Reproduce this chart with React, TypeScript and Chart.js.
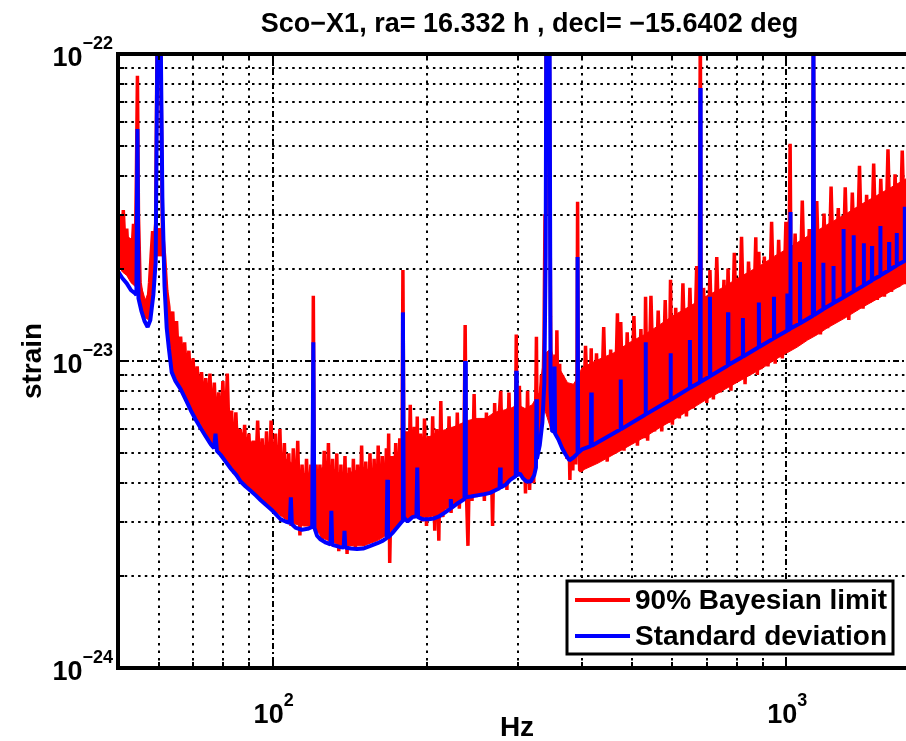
import { useEffect, useRef } from 'react';
import { Chart, registerables } from 'chart.js';

Chart.register(...registerables);

// Strain values below are written in units of 1e-24.
const STRAIN_UNIT = 1e-24;

const TITLE = 'Sco\u2212X1, ra= 16.332 h , decl= \u221215.6402 deg';
const X_LABEL = 'Hz';
const Y_LABEL = 'strain';

const X_RANGE = [50, 2000];
const Y_RANGE = [1e-24, 1e-22];
const X_TICK_EXPONENTS = [2, 3];
const Y_TICK_EXPONENTS = [-24, -23, -22];
const X_GRID_DECADES = [1, 2, 3];
const Y_GRID_DECADES = [-24, -23];
const MINOR_MULTIPLIERS = [2, 3, 4, 5, 6, 7, 8, 9];

// Standard deviation: [Hz, strain/1e-24]
const stdDevLow: [number, number][] = [
  [50, 19.6], [51, 18.6], [52, 17.9], [53, 17.0], [54, 16.6], [54.3, 16.4], [54.55, 57], [54.8, 16.0],
  [55.5, 14.6], [56.3, 13.5], [57.1, 12.9], [57.8, 13.6], [58.6, 16.5], [59.2, 21], [59.7, 130], [60.5, 130],
  [61.0, 34], [61.6, 17.5], [62.2, 12.8], [62.8, 11.0], [63.6, 9.2], [64.7, 8.6], [66.2, 8.1], [67.7, 7.5],
  [69.3, 6.9], [70.8, 6.45], [72.4, 6.05], [74.0, 5.7], [75.8, 5.35], [76.9, 5.2], [77.4, 5.8], [77.9, 5.1],
  [79.2, 4.95], [81.0, 4.7], [83.0, 4.45], [85.0, 4.25], [86.6, 4.05], [88.6, 3.9], [90.6, 3.78], [92.7, 3.65],
  [94.8, 3.52], [97.0, 3.4], [100, 3.25], [103.7, 3.05], [106, 3.0], [108, 2.97], [108.5, 3.6], [109, 2.94],
  [111, 2.86], [114, 2.82], [117, 2.84], [119.4, 2.88], [120, 11.5], [120.6, 2.86],
];

const stdDevMid: [number, number][] = [
  [122, 2.7], [124, 2.62], [127, 2.56], [129.6, 2.53], [130.1, 3.25], [130.6, 2.52], [135, 2.48], [137.5, 2.47],
  [138, 2.8], [138.5, 2.47], [142, 2.45], [146, 2.44], [150, 2.45], [155, 2.5], [160, 2.55], [164, 2.6],
  [166.7, 2.65], [167.2, 4.1], [167.7, 2.66], [171, 2.75], [175, 2.88], [178.6, 3.0], [179.3, 14.4], [180, 3.1],
  [183, 3.0], [187, 3.1], [190.5, 3.12], [191.2, 4.5], [191.9, 3.1], [196, 3.05], [201, 3.05], [206, 3.07],
  [211, 3.12], [216, 3.2], [221.5, 3.3], [222.2, 3.55], [222.9, 3.32], [228, 3.42], [233, 3.5], [236.3, 3.55],
  [237, 10.0], [237.7, 3.6], [243, 3.62], [250, 3.65], [258, 3.68], [265, 3.72], [272, 3.8], [276.5, 3.85],
  [277.2, 4.5], [277.9, 3.87], [284, 3.95], [290, 4.1], [297.3, 4.22], [298, 9.3], [298.7, 4.24], [303, 4.3],
  [307, 4.15], [312, 4.05], [318, 4.05], [323, 4.25], [325.5, 4.5], [326.2, 7.5], [326.9, 4.8], [331, 5.3],
  [335, 6.3], [338, 8.5], [340, 22], [341, 130], [346, 130], [347.5, 8.0], [350, 5.9], [353, 5.9],
  [353.8, 9.6], [354.6, 5.8], [360, 5.55], [366, 5.2], [372, 4.95], [378, 4.75], [385, 4.85], [391.3, 4.98],
  [392.3, 21.8], [393.3, 5.02],
];

const stdDevHigh: [number, number][] = [
  [400, 5.15], [416, 5.28], [417, 7.9], [418, 5.3], [475, 5.98], [476, 8.7], [477, 6.0], [531, 6.68],
  [532, 11.5], [533, 6.7], [594, 7.46], [595, 10.6], [596, 7.48], [648, 8.16], [649, 11.7], [650, 8.18],
  [679, 8.53], [680, 77.5], [681, 8.56], [709, 8.9], [710, 16.2], [711, 8.94], [769, 9.66], [770, 14.4],
  [771, 9.7], [822, 10.32], [823, 13.8], [824, 10.35], [883, 11.08], [884, 15.5], [885, 11.1], [945, 11.85],
  [946, 16.2], [947, 11.88], [1003, 12.55], [1004, 16.6], [1005, 12.57], [1016.5, 12.72], [1018, 30.6], [1019.5, 12.76],
  [1062, 13.25], [1063, 21.0], [1064, 13.28], [1126, 14.05], [1129, 130], [1132, 14.12], [1179, 14.74], [1180, 20.9],
  [1181, 14.76], [1234, 15.41], [1235, 20.4], [1236, 15.44], [1291, 16.11], [1292, 26.9], [1293, 16.14], [1351, 16.85],
  [1352, 25.7], [1353, 16.88], [1414, 17.6], [1415, 24.2], [1416, 17.64], [1467, 18.3], [1468, 23.7], [1469, 18.36],
  [1523, 18.97], [1524, 27.5], [1525, 19.02], [1584, 19.75], [1585, 24.4], [1586, 19.8], [1639, 20.47], [1640, 26.1],
  [1641, 20.52], [1699, 21.17], [1700, 31.8], [1701, 21.22], [2000, 24.9],
];

// 90% Bayesian upper limit, individual spectrum points: [Hz, strain/1e-24]
const limitLow: [number, number][] = [
  [50.0, 24], [50.4, 30], [50.8, 22], [51.2, 31], [51.6, 23], [52.0, 27], [52.4, 21], [52.8, 25],
  [53.2, 22], [53.6, 28], [54.0, 20], [54.3, 40], [54.55, 85], [54.8, 30], [55.2, 18], [55.6, 16.5],
  [56.0, 15], [56.4, 15.8], [56.8, 14.5], [57.2, 15.5], [57.6, 18], [58.0, 22], [58.4, 26.5], [58.8, 24],
  [59.2, 28], [59.6, 130], [60.5, 130], [61.0, 27], [61.6, 22], [62.2, 17], [62.8, 15], [63.3, 12],
  [63.9, 14.5], [64.5, 10], [65.0, 13.5], [65.6, 9.5], [66.2, 12], [66.8, 9], [67.4, 11.5], [68.0, 8.5],
  [68.7, 10.8], [69.3, 8], [70.0, 10.2], [70.6, 7.6], [71.3, 9.6], [72.0, 7.2], [72.7, 9.2], [73.4, 6.8],
  [74.1, 8.8], [74.8, 6.3], [75.5, 9.1], [76.2, 6.0], [77.0, 8.5], [77.7, 5.7], [78.5, 7.9], [79.2, 5.4],
  [80.0, 8.6], [80.8, 5.3], [81.6, 9.1], [82.4, 5.0], [83.2, 6.9], [84.0, 4.3], [84.8, 6.8], [85.6, 4.6],
  [86.5, 6.0], [87.3, 4.4], [88.2, 6.2], [89.0, 4.2], [89.9, 5.8], [90.8, 4.0], [91.7, 5.5], [92.6, 4.1],
  [93.5, 6.4], [94.5, 3.9], [95.4, 5.6], [96.3, 3.7], [97.3, 5.9], [98.3, 3.6], [99.3, 6.4], [100.3, 3.5],
  [101.3, 5.8], [102.3, 3.4], [103.3, 6.0], [104.3, 3.3], [105.4, 5.4], [106.4, 3.2], [107.5, 5.0], [108.6, 2.9],
  [109.7, 5.2], [110.8, 3.1], [111.9, 5.5], [113.0, 2.7], [114.1, 4.6], [115.2, 3.0], [116.4, 4.8], [117.5, 3.1],
  [118.7, 4.6], [119.5, 3.2], [120.0, 16.3], [120.6, 3.3], [121.5, 4.6],
];

const limitMid: [number, number][] = [
  [122.5, 2.8], [123.6, 4.6], [124.8, 2.6], [126.0, 5.1], [127.2, 2.7], [128.4, 5.4], [129.6, 2.5], [130.8, 4.8],
  [132.0, 2.6], [133.3, 5.0], [134.5, 2.4], [135.8, 4.6], [137.0, 2.5], [138.3, 4.9], [139.6, 2.35], [140.9, 4.5],
  [142.2, 2.5], [143.6, 4.8], [144.9, 2.45], [146.3, 4.6], [147.6, 2.6], [149.0, 5.3], [150.4, 2.5], [151.8, 4.7],
  [153.2, 2.55], [154.7, 5.0], [156.1, 2.7], [157.6, 4.8], [159.0, 2.6], [160.5, 5.3], [162.0, 2.7], [163.5, 4.9],
  [165.0, 2.8], [166.5, 5.2], [167.5, 3.0], [168.2, 5.8], [169.0, 2.2], [170.5, 4.9], [172.0, 2.9], [173.6, 5.4],
  [175.2, 3.0], [176.8, 5.6], [178.4, 3.1], [179.3, 19.8], [180.3, 3.2], [182.0, 5.9], [183.6, 3.0], [185.3, 7.2],
  [187.0, 3.2], [188.7, 6.1], [190.4, 3.3], [191.2, 6.6], [192.2, 3.1], [194.0, 5.8], [195.7, 3.0], [197.5, 6.5],
  [199.3, 2.9], [201.1, 5.7], [203.0, 3.2], [204.9, 6.6], [206.8, 2.8], [208.7, 6.0], [210.6, 2.6], [212.5, 7.4],
  [214.5, 3.1], [216.5, 5.9], [218.5, 3.3], [220.5, 6.6], [222.5, 3.2], [224.6, 6.1], [226.7, 3.4], [228.8, 6.8],
  [230.9, 3.3], [233.0, 6.2], [235.2, 3.5], [237.0, 13.1], [238.5, 3.6], [240.0, 2.5], [242.2, 6.0], [244.4, 3.5],
  [246.7, 7.8], [249.0, 3.6], [251.3, 6.4], [253.6, 3.7], [256.0, 6.2], [258.3, 3.5], [260.7, 6.8], [263.1, 3.7],
  [265.6, 6.3], [268.0, 2.9], [270.5, 7.3], [273.0, 3.8], [275.5, 6.3], [278.0, 8.0], [280.6, 3.9], [283.2, 6.6],
  [285.8, 3.8], [288.4, 7.9], [291.1, 4.1], [293.8, 6.4], [296.5, 4.2], [298.0, 12.2], [299.5, 4.3], [302.2, 8.3],
  [305.0, 4.2], [307.8, 6.7], [310.6, 3.7], [313.5, 8.0], [316.4, 3.8], [319.3, 6.5], [322.2, 4.0], [325.2, 7.4],
  [326.2, 12.0], [327.5, 5.0], [329.5, 7.8], [331.5, 5.5], [333.5, 9.0], [335.5, 7.0], [337.5, 12.0], [339.0, 30],
  [340.5, 130], [345.5, 130], [347.5, 14], [349.0, 6.0], [351.0, 9.5], [353.0, 7.0], [354.5, 10.5], [356.0, 6.8],
  [357.5, 12.6], [359.5, 6.2], [362.0, 9.8], [364.0, 5.6], [366.5, 9.0], [369.0, 5.2], [371.5, 8.5], [374.0, 4.8],
  [376.5, 7.2], [379.0, 4.1], [381.5, 7.8], [384.0, 4.4], [386.5, 8.0], [389.0, 4.6], [391.2, 8.5], [392.3, 33],
  [393.5, 8.0], [396.0, 4.4],
];

const limitHigh: [number, number][] = [
  [400, 4.4], [406.5, 11.2], [413, 4.9], [417, 11.0], [420, 4.6], [427, 10.6], [434, 5.0], [441, 12.9],
  [448, 4.7], [455, 10.9], [462, 5.0], [469, 14.3], [472.5, 5.3], [476, 13.4], [483, 5.1], [490, 12.4],
  [497, 5.4], [505, 14.0], [513, 5.3], [521, 12.7], [529, 5.6], [532, 16.2], [537, 5.5], [545, 16.3],
  [554, 5.9], [563, 14.6], [572, 5.9], [581, 15.8], [590, 6.3], [595, 18.4], [600, 6.2], [609, 14.9],
  [619, 6.5], [629, 17.9], [639, 6.6], [649, 17.3], [659, 7.0], [669, 20.4], [676, 7.3], [680, 130],
  [683, 8.0], [690, 17.3], [700, 7.3], [710, 19.8], [721, 7.5], [732, 21.8], [744, 7.9], [756, 18.4],
  [763, 8.3], [770, 20.0], [780, 8.0], [792, 22.5], [805, 8.6], [818, 25.4], [831, 8.4], [844, 21.1],
  [858, 9.1], [872, 25.3], [878, 9.0], [884, 22.7], [892, 9.4], [906, 21.9], [921, 9.6], [936, 28.4],
  [951, 9.8], [966, 24.8], [982, 10.2], [998, 28.4], [1008, 11.0], [1017, 51], [1023, 11.0], [1040, 26.0],
  [1057, 11.3], [1074, 33.3], [1091, 11.8], [1108, 26.9], [1124, 12.4], [1129, 130], [1134, 13.5], [1146, 33.2],
  [1165, 12.2], [1184, 30.2], [1203, 12.8], [1222, 37.0], [1242, 13.3], [1262, 31.5], [1282, 13.8], [1302, 36.8],
  [1323, 13.6], [1344, 35.4], [1366, 14.6], [1388, 43.2], [1410, 14.8], [1433, 34.8], [1456, 15.5], [1479, 44.0],
  [1503, 15.8], [1527, 39.2], [1552, 16.2], [1577, 48.9], [1602, 16.8], [1628, 40.6], [1654, 17.4], [1681, 48.5],
  [1708, 17.8], [1736, 44.2], [1764, 18.5], [1792, 54.0], [1821, 19.0], [1850, 44.3], [1880, 19.5], [1910, 55.8],
  [1940, 20.0], [1970, 49.9], [2000, 21.0],
];

// Dense body of the upper-limit spectrum: [Hz, lower edge, upper edge] in strain/1e-24
const limitBand: [number, number, number][] = [
  [50, 20.5, 27], [51, 19.5, 28], [52, 19, 25.5], [53, 18, 25], [54, 17.5, 24], [54.8, 16.5, 21],
  [55.5, 15, 17.5], [56.5, 13.8, 15.8], [57.5, 13.6, 17], [58.5, 17, 24], [59.5, 22, 27], [61, 22, 27],
  [62, 14, 19], [63, 10.5, 14], [64, 9.2, 12.5], [66, 8.3, 11.2], [68, 7.5, 10.2], [70, 6.8, 9.4],
  [72.5, 6.2, 8.6], [75, 5.6, 8.0], [78, 5.1, 7.3], [80, 4.9, 7.4], [83, 4.5, 6.4], [86, 4.15, 6.0],
  [90, 3.85, 5.5], [94, 3.6, 5.3], [98, 3.4, 5.3], [102, 3.2, 5.1], [106, 3.05, 4.8], [110, 2.95, 4.6],
  [115, 2.9, 4.3], [120, 2.9, 4.3], [125, 2.65, 4.5], [130, 2.58, 4.5], [135, 2.52, 4.3], [140, 2.5, 4.3],
  [145, 2.5, 4.4], [150, 2.5, 4.5], [155, 2.55, 4.4], [160, 2.6, 4.6], [165, 2.68, 4.6], [170, 2.8, 4.8],
  [175, 2.92, 5.0], [180, 3.1, 5.4], [185, 3.1, 5.6], [190, 3.15, 5.7], [200, 3.1, 5.6], [210, 3.15, 5.9],
  [220, 3.35, 6.0], [230, 3.5, 6.2], [240, 3.65, 6.4], [250, 3.7, 6.5], [260, 3.72, 6.5], [270, 3.85, 6.8],
  [280, 3.95, 6.9], [290, 4.15, 7.0], [300, 4.3, 7.2], [310, 4.1, 7.0], [320, 4.15, 7.2], [330, 5.1, 7.9],
  [338, 7.0, 10.5], [348, 6.0, 11], [355, 5.8, 9.8], [365, 5.2, 9.2], [375, 4.8, 8.5], [385, 4.85, 8.4],
  [392, 5.0, 8.8], [400, 4.4, 9.5], [430, 4.65, 10.1], [460, 4.95, 10.6], [500, 5.35, 11.6], [530, 5.65, 12.2],
  [570, 6.1, 13.2], [600, 6.4, 14.0], [650, 6.95, 15.1], [700, 7.5, 16.3], [750, 8.0, 17.3], [800, 8.5, 18.5],
  [850, 9.0, 19.6], [900, 9.5, 20.7], [950, 10.1, 22.0], [1000, 10.6, 23.1], [1050, 11.1, 24.3], [1100, 11.7, 25.5],
  [1150, 12.2, 26.6], [1200, 12.8, 27.8], [1300, 13.8, 30.0], [1400, 14.9, 32.4], [1500, 15.9, 34.6], [1600, 16.9, 36.8],
  [1700, 17.9, 39.0], [1800, 19.0, 41.3], [1900, 20.1, 43.7], [2000, 21.2, 46.1],
];

const LIMIT_LABEL = '90% Bayesian limit';
const STDDEV_LABEL = 'Standard deviation';
const LIMIT_COLOR = '#ff0000';
const STDDEV_COLOR = '#0000ff';

const FONT = '"Liberation Sans", Arial, Helvetica, sans-serif';

const toPoints = (rows: [number, number][]) => rows.map(([hz, s]) => ({ x: hz, y: s * STRAIN_UNIT }));

function drawPower(ctx: CanvasRenderingContext2D, exp: number, x: number, y: number, align: 'right' | 'center') {
  const base = '10';
  const sup = exp < 0 ? '\u2212' + Math.abs(exp) : String(exp);
  ctx.font = `bold 27px ${FONT}`;
  const wb = ctx.measureText(base).width;
  ctx.font = `bold 18px ${FONT}`;
  const ws = ctx.measureText(sup).width;
  const total = wb + ws;
  const left = align === 'right' ? x - total : x - total / 2;
  ctx.textAlign = 'left';
  ctx.textBaseline = 'alphabetic';
  ctx.font = `bold 27px ${FONT}`;
  ctx.fillText(base, left, y);
  ctx.font = `bold 18px ${FONT}`;
  ctx.fillText(sup, left + wb, y - 17);
}

const matlabAxes = {
  id: 'matlabAxes',
  beforeDatasetsDraw(chart: any) {
    const { ctx, chartArea: a, scales } = chart;
    const xs = scales.x;
    const ys = scales.y;
    ctx.save();
    ctx.strokeStyle = '#000';
    ctx.lineWidth = 2;
    // horizontal grid
    for (const d of Y_GRID_DECADES) {
      for (const m of [1, ...MINOR_MULTIPLIERS]) {
        const v = m * Math.pow(10, d);
        if (v <= Y_RANGE[0]) continue;
        const py = Math.round(ys.getPixelForValue(v));
        ctx.setLineDash(m === 1 ? [2, 3, 6, 3] : [2.5, 4.2]);
        ctx.beginPath();
        ctx.moveTo(a.left, py);
        ctx.lineTo(a.right, py);
        ctx.stroke();
      }
    }
    // vertical grid
    for (const d of X_GRID_DECADES) {
      for (const m of [1, ...MINOR_MULTIPLIERS]) {
        const v = m * Math.pow(10, d);
        if (v <= X_RANGE[0] || v >= X_RANGE[1]) continue;
        const px = Math.round(xs.getPixelForValue(v));
        ctx.setLineDash(m === 1 ? [2, 3, 6, 3] : [2.5, 5]);
        ctx.beginPath();
        ctx.moveTo(px, a.bottom);
        ctx.lineTo(px, a.top);
        ctx.stroke();
      }
    }
    ctx.restore();
  },
  afterDatasetsDraw(chart: any) {
    const { ctx, chartArea: a, scales } = chart;
    const xs = scales.x;
    const ys = scales.y;
    ctx.save();
    ctx.setLineDash([]);
    ctx.strokeStyle = '#000';
    ctx.fillStyle = '#000';

    // tick marks, inside the box
    ctx.lineWidth = 2;
    for (const d of X_GRID_DECADES) {
      for (const m of [1, ...MINOR_MULTIPLIERS]) {
        const v = m * Math.pow(10, d);
        if (v <= X_RANGE[0] || v >= X_RANGE[1]) continue;
        const px = Math.round(xs.getPixelForValue(v));
        const len = m === 1 ? 11 : 6;
        ctx.beginPath();
        ctx.moveTo(px, a.bottom);
        ctx.lineTo(px, a.bottom - len);
        ctx.moveTo(px, a.top);
        ctx.lineTo(px, a.top + len);
        ctx.stroke();
      }
    }
    for (const d of Y_GRID_DECADES) {
      for (const m of [1, ...MINOR_MULTIPLIERS]) {
        const v = m * Math.pow(10, d);
        if (v <= Y_RANGE[0]) continue;
        const py = Math.round(ys.getPixelForValue(v));
        const len = m === 1 ? 11 : 6;
        ctx.beginPath();
        ctx.moveTo(a.left, py);
        ctx.lineTo(a.left + len, py);
        ctx.stroke();
      }
    }

    // axes box
    ctx.lineWidth = 4;
    ctx.lineCap = 'square';
    ctx.beginPath();
    ctx.moveTo(a.right, a.top);
    ctx.lineTo(a.left, a.top);
    ctx.lineTo(a.left, a.bottom);
    ctx.lineTo(a.right, a.bottom);
    ctx.stroke();

    // tick labels
    for (const e of Y_TICK_EXPONENTS) {
      const py = ys.getPixelForValue(Math.pow(10, e));
      drawPower(ctx, e, a.left - 5, py + 12, 'right');
    }
    for (const e of X_TICK_EXPONENTS) {
      const px = xs.getPixelForValue(Math.pow(10, e));
      drawPower(ctx, e, px + 1, a.bottom + 55, 'center');
    }

    // axis labels and title
    ctx.textAlign = 'center';
    ctx.textBaseline = 'middle';
    ctx.font = `bold 28px ${FONT}`;
    ctx.fillText(X_LABEL, 517, a.bottom + 60);
    ctx.save();
    ctx.translate(33, (a.top + a.bottom) / 2);
    ctx.rotate(-Math.PI / 2);
    ctx.fillText(Y_LABEL, 0, 0);
    ctx.restore();
    ctx.textBaseline = 'alphabetic';
    ctx.font = `bold 27px ${FONT}`;
    ctx.fillText(TITLE, (a.left + a.right) / 2, 32);

    // legend
    const lx = a.right - 374;
    const ly = a.bottom - 87;
    const lw = 326;
    const lh = 73;
    ctx.fillStyle = '#fff';
    ctx.fillRect(lx, ly, lw, lh);
    ctx.lineWidth = 3;
    ctx.strokeStyle = '#000';
    ctx.strokeRect(lx, ly, lw, lh);
    const rows: [string, string, number][] = [
      [LIMIT_LABEL, LIMIT_COLOR, ly + 19],
      [STDDEV_LABEL, STDDEV_COLOR, ly + 55],
    ];
    ctx.font = `bold 28px ${FONT}`;
    ctx.textAlign = 'left';
    ctx.textBaseline = 'middle';
    for (const [label, color, yy] of rows) {
      ctx.strokeStyle = color;
      ctx.lineWidth = 4;
      ctx.lineCap = 'butt';
      ctx.beginPath();
      ctx.moveTo(lx + 8, yy);
      ctx.lineTo(lx + 63, yy);
      ctx.stroke();
      ctx.fillStyle = '#000';
      ctx.fillText(label, lx + 68, yy + 1);
    }
    ctx.restore();
  },
};

export default function App() {
  const canvasRef = useRef<HTMLCanvasElement>(null);

  useEffect(() => {
    if (!canvasRef.current) return;
    const bandLower = limitBand.map(([hz, lo]) => ({ x: hz, y: lo * STRAIN_UNIT }));
    const bandUpper = limitBand.map(([hz, , hi]) => ({ x: hz, y: hi * STRAIN_UNIT }));
    const lineBase = {
      pointRadius: 0,
      tension: 0,
      borderJoinStyle: 'bevel',
      clip: 0,
    };
    const chart = new Chart(canvasRef.current, {
      type: 'line',
      data: {
        datasets: [
          {
            ...lineBase,
            label: 'band-lower',
            data: bandLower,
            borderColor: LIMIT_COLOR,
            borderWidth: 1,
            fill: false,
            order: 3,
          },
          {
            ...lineBase,
            label: 'band-upper',
            data: bandUpper,
            borderColor: LIMIT_COLOR,
            borderWidth: 1,
            backgroundColor: LIMIT_COLOR,
            fill: '-1',
            order: 2,
          },
          {
            ...lineBase,
            label: LIMIT_LABEL,
            data: toPoints([...limitLow, ...limitMid, ...limitHigh]),
            borderColor: LIMIT_COLOR,
            borderWidth: 3.5,
            fill: false,
            order: 1,
          },
          {
            ...lineBase,
            label: STDDEV_LABEL,
            data: toPoints([...stdDevLow, ...stdDevMid, ...stdDevHigh]),
            borderColor: STDDEV_COLOR,
            borderWidth: 4,
            fill: false,
            order: 0,
          },
        ],
      },
      options: {
        responsive: false,
        animation: false,
        events: [],
        layout: { padding: { left: 118, top: 54, right: 19, bottom: 73 } },
        scales: {
          x: { type: 'logarithmic', min: X_RANGE[0], max: X_RANGE[1], display: false },
          y: { type: 'logarithmic', min: Y_RANGE[0], max: Y_RANGE[1], display: false },
        },
        plugins: {
          legend: { display: false },
          title: { display: false },
          tooltip: { enabled: false },
          filler: { propagate: false },
        },
      },
      plugins: [matlabAxes],
    } as any);
    return () => chart.destroy();
  }, []);

  return (
    <div
      style={{
        position: 'fixed',
        left: 0,
        top: 0,
        width: 906,
        height: 741,
        overflow: 'hidden',
        background: '#fff',
      }}
    >
      <canvas ref={canvasRef} width={960} height={741} style={{ display: 'block' }} />
    </div>
  );
}
